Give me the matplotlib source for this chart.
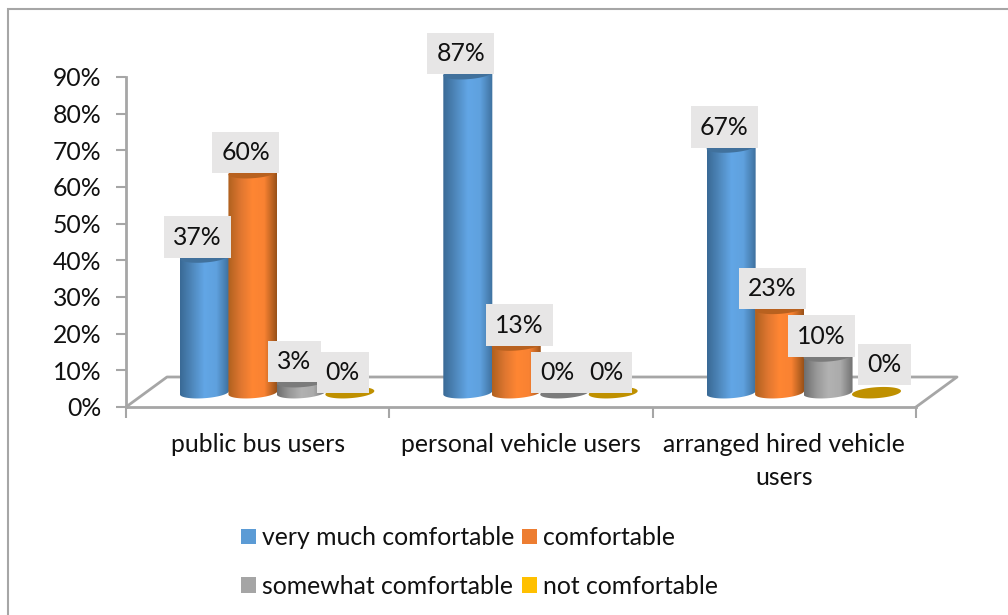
import numpy as np
import matplotlib
matplotlib.use('Agg')
import matplotlib.pyplot as plt
from matplotlib.colors import LinearSegmentedColormap
from matplotlib.patches import Polygon, Rectangle, Patch

#Chart data
categories = ['public bus users', 'personal vehicle users', 'arranged hired vehicle\nusers']
series_names = ['very much comfortable', 'comfortable', 'somewhat comfortable', 'not comfortable']
very_much = [37, 87, 67]
comfortable = [60, 13, 23]
somewhat = [3, 0, 10]
not_comfortable = [0, 0, 0]
yticks = [0, 10, 20, 30, 40, 50, 60, 70, 80, 90]

W, H = 1008, 615
GREY = '#A6A6A6'
plt.rcParams['font.family'] = ['Lato', 'DejaVu Sans']
FS = 17.8

#Pixel scale of the plot area
LEFT, RIGHT, TOP, BOTTOM = 126, 916, 77, 407
PX_X = (RIGHT-LEFT)/3
PX_Y = (BOTTOM-TOP)/90

#Cylinder geometry in data units
BASE = 3.9
FIRST = 0.298
STEP = 0.184
HALF_W = 24.5/PX_X
HALF_H = 5.5/PX_Y
TILT = 0.07*PX_X/PX_Y

legend_cols = ['#5B9BD5', '#ED7D31', '#A5A5A5', '#FFC000']
top_cols = ['#41719C', '#B8611F', '#7B7B7B', '#BF9000']
grads = [['#3A6A96', '#4F88BC', '#62A6E6', '#5FA1DE', '#3F719F'],
         ['#B0611F', '#DE7630', '#FF8633', '#F98232', '#9A5219'],
         ['#6F6F6F', '#989898', '#B2B2B2', '#ABABAB', '#727272'],
         ['#BF9000', '#BF9000', '#BF9000', '#BF9000', '#BF9000']]

fig = plt.figure(figsize=(W/100, H/100), dpi=100)
ax = fig.add_axes([LEFT/W, 1-BOTTOM/H, (RIGHT-LEFT)/W, (BOTTOM-TOP)/H])
ax.set_xlim(0, 3)
ax.set_ylim(0, 90)
ax.set_autoscale_on(False)
ax.patch.set_alpha(0)

#Outer frame of the chart
fig.add_artist(Rectangle((8/W, -0.05), (W-8+20)/W, 1.05-9/H, transform=fig.transFigure,
                         fill=False, ec=GREY, lw=1.5))

#Floor of the 3D plot
dx, dy = 41/PX_X, 30/PX_Y
ax.plot([0, dx, 3+dx, 3], [0, dy, dy, 0], color=GREY, lw=2, clip_on=False, zorder=1)

#Axes
for s in ['top', 'right']:
    ax.spines[s].set_visible(False)
for s in ['left', 'bottom']:
    ax.spines[s].set_color(GREY)
    ax.spines[s].set_linewidth(2)
ax.set_yticks(yticks)
ax.set_yticklabels([str(v)+'%' for v in yticks], fontsize=FS, color='#111111')
ax.set_xticks([0, 1, 2, 3])
ax.set_xticklabels([])
ax.set_xticks([0.5, 1.5, 2.5], minor=True)
ax.set_xticklabels(categories, minor=True, fontsize=FS, color='#111111', linespacing=1.53)
ax.tick_params(axis='y', length=7, width=1.5, color=GREY, pad=10.5)
ax.tick_params(axis='x', which='major', length=8, width=1.5, color=GREY)
ax.tick_params(axis='x', which='minor', length=0, pad=19)

def ellipse(cx, cy, start, stop):
    t = np.linspace(start, stop, 60)
    ex = cx + HALF_W*np.cos(t)
    ey = cy + HALF_H*np.sin(t) + TILT*(ex-cx)
    return np.column_stack([ex, ey])

#Cylinders, drawn left to right so later ones overlap earlier ones
z = 3
all_series = [very_much, comfortable, somewhat, not_comfortable]
for c in range(len(categories)):
    for i, vals in enumerate(all_series):
        v = vals[c]
        cx = c + FIRST + STEP*i
        top = BASE + v
        if v > 0:
            lower = ellipse(cx, BASE, np.pi, 2*np.pi)
            upper = ellipse(cx, top, 0, np.pi)
            body = Polygon(np.vstack([lower, upper]), closed=True, fc='none', ec='none', zorder=z,
                           clip_on=False)
            ax.add_patch(body)
            cmap = LinearSegmentedColormap.from_list('c%d' % i, grads[i])
            im = ax.imshow(np.linspace(0, 1, 64).reshape(1, -1), cmap=cmap, aspect='auto',
                           extent=[cx-HALF_W, cx+HALF_W, BASE-2*HALF_H, top+2*HALF_H], zorder=z)
            im.set_clip_box(fig.bbox)
            im.set_clip_path(body)
        ax.add_patch(Polygon(ellipse(cx, top, 0, 2*np.pi), closed=True, fc=top_cols[i], ec='none',
                             zorder=z+0.5, clip_on=False))
        z += 1

#Data labels, most sit up and left of the cylinder top
moved = {(1, 1): (3, 20), (2, 3): (8, 28)}
for c in range(len(categories)):
    for i, vals in enumerate(all_series):
        off = moved.get((c, i), (-7, 20))
        ax.annotate(str(vals[c])+'%', (c + FIRST + STEP*i, BASE + vals[c]), xytext=off,
                    textcoords='offset pixels', ha='center', va='center', fontsize=FS,
                    color='#111111', zorder=50 + z, annotation_clip=False,
                    bbox=dict(boxstyle='square,pad=0.37', fc='#E7E6E6', ec='none'))

#Legend
handles = [Patch(fc=col, ec='none') for col in legend_cols]
order = [0, 2, 1, 3]
ax.legend([handles[i] for i in order], [series_names[i] for i in order], ncol=2,
          loc='upper left', bbox_to_anchor=((241-LEFT)/(RIGHT-LEFT), -0.361),
          frameon=False, fontsize=FS, handlelength=0.6, handleheight=0.6, handletextpad=0.25,
          columnspacing=0.3, labelspacing=1.04, labelcolor='#111111', borderpad=0, borderaxespad=0)

fig.savefig('out.png', dpi=100)
